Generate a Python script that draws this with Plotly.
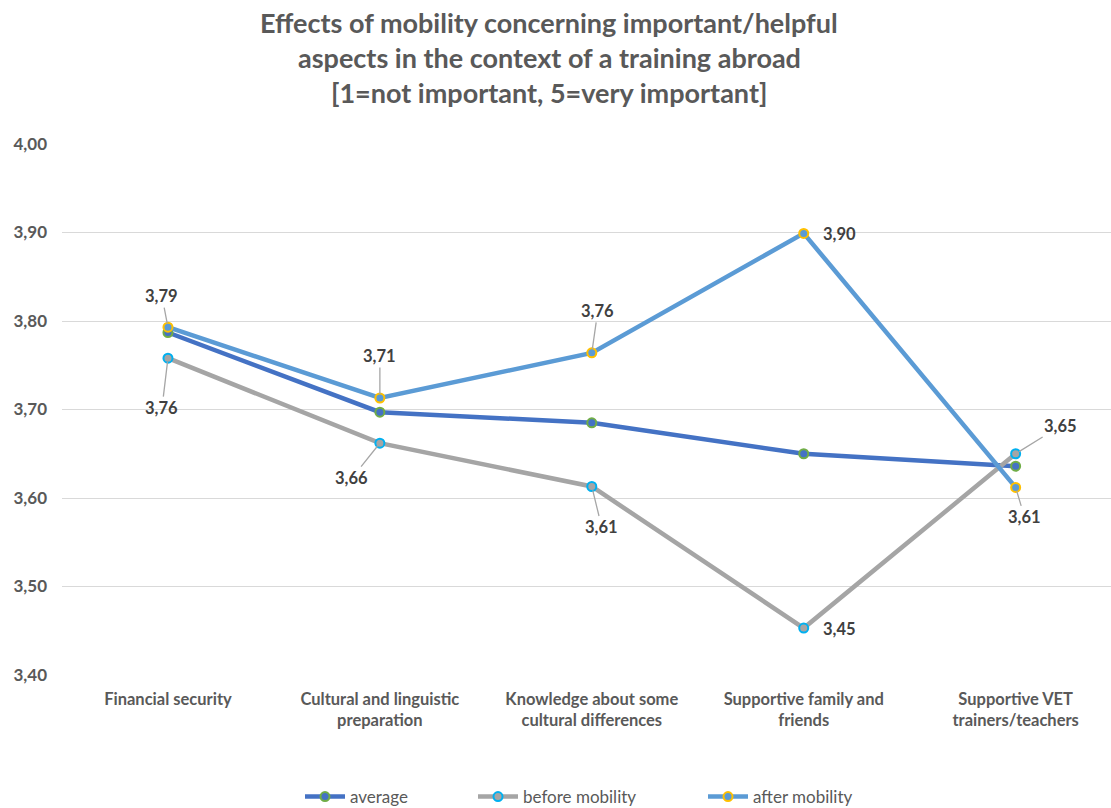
import plotly.graph_objects as go

# Chart data
categories = [
    "Financial security",
    "Cultural and linguistic<br>preparation",
    "Knowledge about some<br>cultural differences",
    "Supportive family and<br>friends",
    "Supportive VET<br>trainers/teachers",
]
average = [3.787, 3.697, 3.685, 3.650, 3.636]
before_mobility = [3.758, 3.662, 3.613, 3.453, 3.650]
after_mobility = [3.793, 3.713, 3.764, 3.899, 3.612]
y_ticks = [3.40, 3.50, 3.60, 3.70, 3.80, 3.90, 4.00]
y_tick_labels = ["3,40", "3,50", "3,60", "3,70", "3,80", "3,90", "4,00"]

TEXT = "#595959"
FONT = "Lato"
WIDTH, HEIGHT = 1111, 808
M_LEFT, M_RIGHT = 62, 0

fig = go.Figure()

# name, values, line colour, marker edge colour, legend id, legend left x (px)
series = [
    ("average", average, "#4472C4", "#70AD47", "legend", 300),
    ("before mobility", before_mobility, "#A5A5A5", "#00B0F0", "legend2", 473),
    ("after mobility", after_mobility, "#5B9BD5", "#FFC000", "legend3", 703),
]
for name, vals, line_col, edge_col, leg, _ in series:
    fig.add_trace(go.Scatter(
        x=categories, y=vals, name=name, mode="lines+markers",
        line=dict(color=line_col, width=4.5),
        marker=dict(size=9, color=line_col, line=dict(color=edge_col, width=2)),
        legend=leg,
    ))


def fmt(v):
    return f"{v:.2f}".replace(".", ",")


label_font = dict(family=FONT, size=16.5, color="#404040", weight="bold")

# data labels with leader lines: (series values, index, x offset, y offset)
leader_labels = [
    (after_mobility, 0, -6, -31),
    (before_mobility, 0, -6, 50),
    (after_mobility, 1, 0, -42),
    (before_mobility, 1, -28, 35),
    (after_mobility, 2, 6, -42),
    (before_mobility, 2, 10, 41),
    (before_mobility, 4, 45, -28),
    (after_mobility, 4, 9, 30),
]
for vals, i, ax, ay in leader_labels:
    fig.add_annotation(
        x=categories[i], y=vals[i], text=fmt(vals[i]),
        showarrow=True, arrowhead=0, arrowwidth=1.3, arrowcolor="#A6A6A6",
        ax=ax, ay=ay, standoff=4, font=label_font,
    )

# labels placed to the right of their points
side_labels = [(after_mobility, 3), (before_mobility, 3)]
for vals, i in side_labels:
    fig.add_annotation(
        x=categories[i], y=vals[i], text=fmt(vals[i]),
        showarrow=False, xshift=36, yshift=-1, font=label_font,
    )

# three-line title, centred on the page
title_lines = [
    "Effects of mobility concerning important/helpful",
    "aspects in the context of a training abroad",
    "[1=not important, 5=very important]",
]
title_x = (549 - M_LEFT) / (WIDTH - M_LEFT - M_RIGHT)
for k, line in enumerate(title_lines):
    fig.add_annotation(
        xref="paper", yref="paper", x=title_x, y=1, yshift=122 - 35 * k,
        xanchor="center", yanchor="middle", showarrow=False, text=line,
        font=dict(family=FONT, size=27, color=TEXT, weight="bold"),
    )

legend_common = dict(
    orientation="h", xref="container", yref="container",
    y=1 - 797 / HEIGHT, yanchor="middle", xanchor="left",
    font=dict(family=FONT, size=17, color=TEXT), itemwidth=40,
    bgcolor="rgba(0,0,0,0)",
)
legends = {}
for _, _, _, _, leg, left in series:
    legends[leg] = dict(legend_common, x=left / WIDTH)

fig.update_layout(
    width=WIDTH, height=HEIGHT,
    margin=dict(l=M_LEFT, r=M_RIGHT, t=144, b=133),
    paper_bgcolor="white", plot_bgcolor="white",
    showlegend=True,
    **legends,
    xaxis=dict(
        type="category", categoryorder="array", categoryarray=categories,
        range=[-0.5, 4.45], showgrid=False, zeroline=False, showline=False,
        ticks="", tickfont=dict(family=FONT, size=16.5, color=TEXT, weight="bold"),
        ticklabelstandoff=12, automargin=False,
    ),
    yaxis=dict(
        range=[3.40, 4.00], tickvals=y_ticks, ticktext=y_tick_labels,
        showgrid=True, gridcolor="#D9D9D9", gridwidth=1.3, zeroline=False,
        showline=False, ticks="", automargin=False,
        tickfont=dict(family=FONT, size=17, color=TEXT, weight="bold"),
        ticklabelstandoff=14,
    ),
)

fig.write_html("out.html")
